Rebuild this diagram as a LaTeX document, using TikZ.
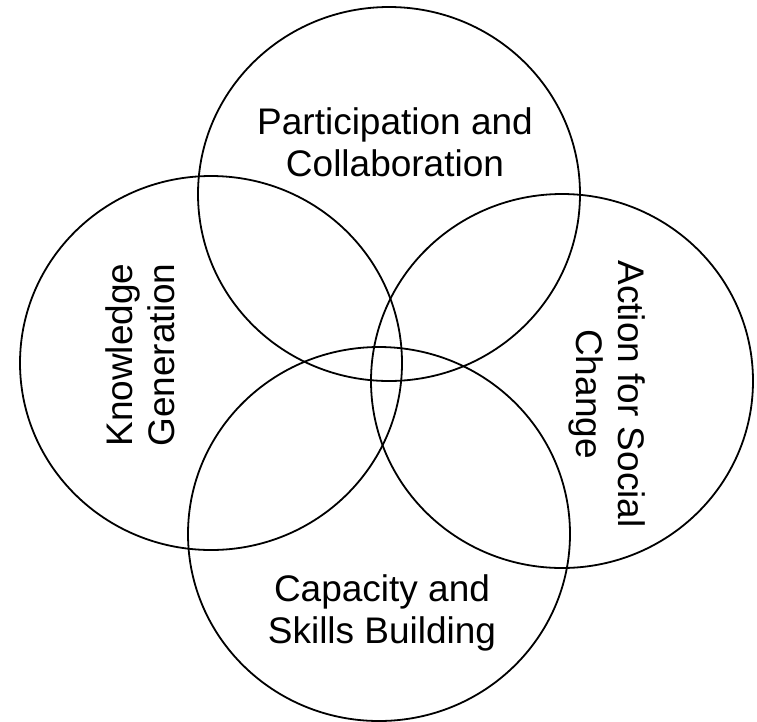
\documentclass[tikz,border=0pt]{standalone}
\usepackage{fontspec}
\setmainfont{Liberation Sans}
\usetikzlibrary{shapes.geometric}
\begin{document}
\begin{tikzpicture}[x=1pt,y=-1pt,font=\fontsize{37}{42}\selectfont]
      \tikzstyle{ring}=[ellipse,draw,line width=1.8pt,minimum width=382pt,minimum height=374pt,inner sep=0]
      \tikzstyle{ring label}=[align=center,inner sep=0]
      \useasboundingbox (0,0) rectangle (757,721);

      % the four circles
      \node(top)[ring] at (389,194){};
      \node(left)[ring] at (211,363){};
      \node(right)[ring] at (562,381){};
      \node(bottom)[ring] at (379,534){};

      % labels
      \node(toplabel)[ring label] at (395,142){Participation and\\Collaboration};
      \node(leftlabel)[ring label,rotate=90] at (140,355){Knowledge\\Generation};
      \node(rightlabel)[ring label,rotate=-90] at (607,394){Action for Social\\Change};
      \node(bottomlabel)[ring label] at (382,613){Capacity and\\Skills Building};
\end{tikzpicture}
\end{document}
